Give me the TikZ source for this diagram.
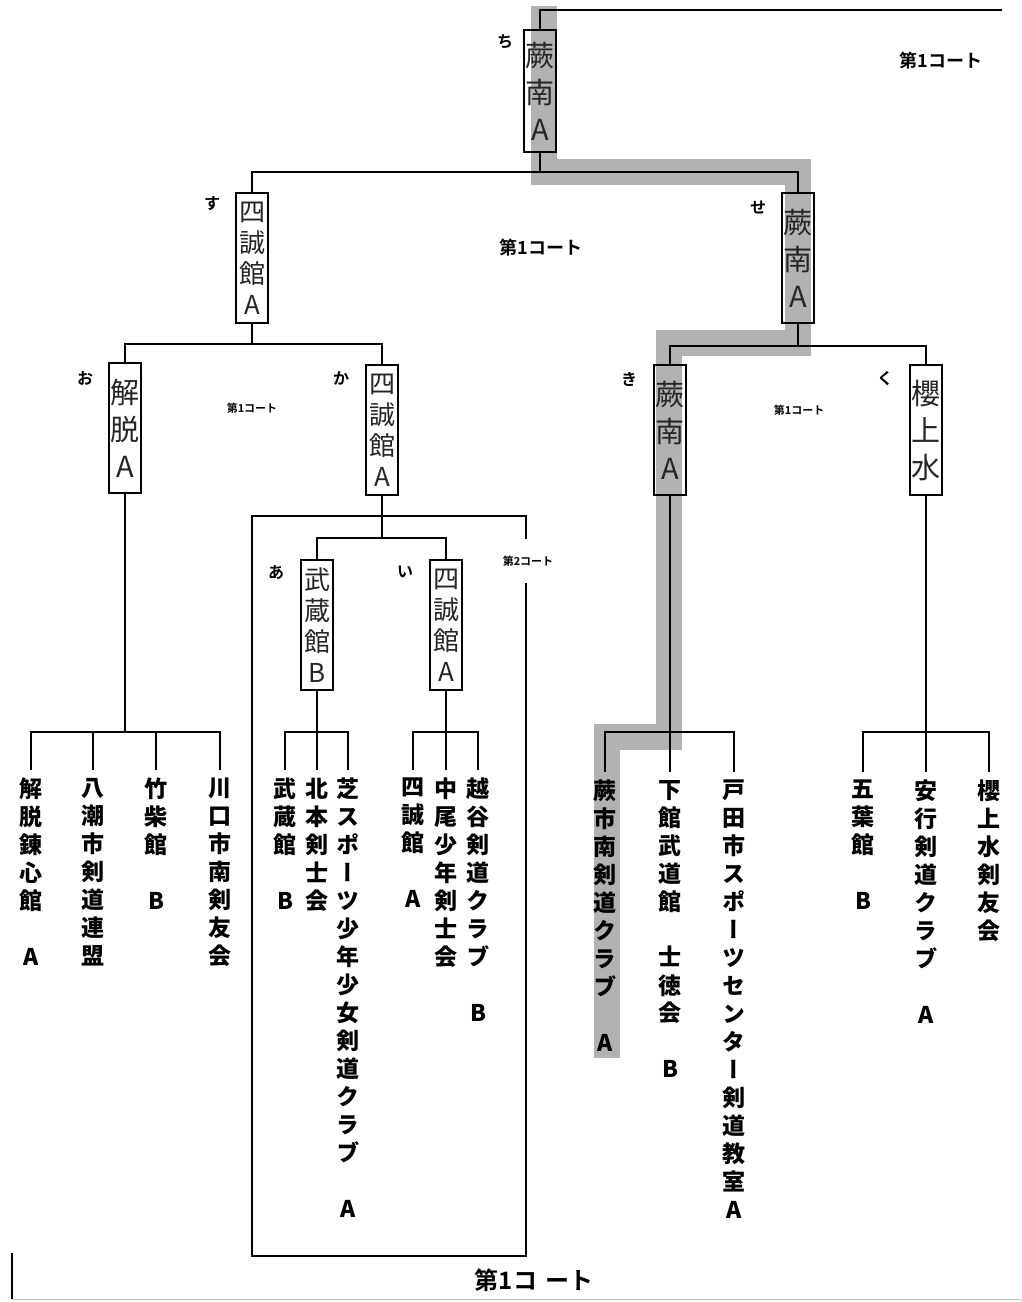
\documentclass[tikz,border=0pt]{standalone}
\usepackage{fontspec}
\newfontfamily\jpb{Noto Sans CJK JP Black}[RawFeature=+vert]
\newfontfamily\jpbh{Noto Sans CJK JP Bold}
\newfontfamily\jpl{Noto Sans CJK JP}
\begin{document}
\begin{tikzpicture}[x=1pt,y=-1pt,
  conn/.style={line width=1.3pt, black},
  win/.style={draw, line width=1.1pt, minimum width=32pt, minimum height=130pt, inner sep=0pt, align=center, text=black!85, font=\jpl\fontsize{26}{31}\selectfont},
  winthree/.style={win, font=\jpl\fontsize{29}{37}\selectfont},
  leaf/.style={anchor=north, inner sep=0pt, outer ysep=8pt, align=center, font=\jpb\fontsize{23}{28}\selectfont},
  kana/.style={font=\jpbh\fontsize{16}{16}\selectfont, inner sep=0pt},
  court/.style={font=\jpbh\fontsize{18}{18}\selectfont, inner sep=2pt},
  courtsmall/.style={font=\jpbh\fontsize{11}{11}\selectfont, inner sep=2pt},
  hl/.style={line width=26pt, black!30, line join=miter}
]
\useasboundingbox (0,0) rectangle (1021,1302);
\fill[white] (0,0) rectangle (1021,1302);

% highlight of the winning path
\draw[hl] (544,6) -- (544,172) -- (798,172) -- (798,343) -- (669,343) -- (669,737) -- (607,737) -- (607,1058);

% second court frame
\draw[conn] (252,516) rectangle (526,1256);
% outer first court frame parts
\draw[conn] (12,1253) -- (12,1299);
\draw[line width=1pt, black!25] (12,1299) -- (1021,1299);

% winner boxes
\node[winthree, minimum height=122pt] (chi) at (540,91) {蕨\\南\\A};
\node[win] (su) at (252,258) {四\\誠\\館\\A};
\node[winthree] (se) at (798,258) {蕨\\南\\A};
\node[winthree] (o) at (125,428) {解\\脱\\A};
\node[win] (ka) at (382,430) {四\\誠\\館\\A};
\node[winthree] (ki) at (670,430) {蕨\\南\\A};
\node[winthree] (ku) at (926,430) {櫻\\上\\水};
\node[win] (a) at (317,625) {武\\蔵\\館\\B};
\node[win] (i) at (446,625) {四\\誠\\館\\A};

% round labels
\node[kana] (lchi) at (505,42) {ち};
\node[kana] (lsu) at (212,204) {す};
\node[kana] (lse) at (758,207) {せ};
\node[kana] (lo) at (85,378) {お};
\node[kana] (lka) at (341,378) {か};
\node[kana] (lki) at (629,379) {き};
\node[kana] (lku) at (885,379) {く};
\node[kana] (la) at (276,573) {あ};
\node[kana] (li) at (405,572) {い};

% leaves
\node[leaf] (Lo1) at (31,770) {解\\脱\\錬\\心\\館\\　\\A};
\node[leaf] (Lo2) at (93,770) {八\\潮\\市\\剣\\道\\連\\盟};
\node[leaf] (Lo3) at (156,770) {竹\\柴\\館\\　\\B};
\node[leaf] (Lo4) at (220,770) {川\\口\\市\\南\\剣\\友\\会};
\node[leaf] (La1) at (285,770) {武\\蔵\\館\\　\\B};
\node[leaf] (La2) at (317,770) {北\\本\\剣\\士\\会};
\node[leaf] (La3) at (348,770) {芝\\ス\\ポ\\ー\\ツ\\少\\年\\少\\女\\剣\\道\\ク\\ラ\\ブ\\　\\A};
\node[leaf] (Li1) at (413,770) {四\\誠\\館\\　\\A};
\node[leaf] (Li2) at (446,770) {中\\尾\\少\\年\\剣\\士\\会};
\node[leaf] (Li3) at (478,770) {越\\谷\\剣\\道\\ク\\ラ\\ブ\\　\\B};
\node[leaf] (Lk1) at (605,772) {蕨\\市\\南\\剣\\道\\ク\\ラ\\ブ\\　\\A};
\node[leaf] (Lk2) at (670,772) {下\\館\\武\\道\\館\\　\\士\\徳\\会\\　\\B};
\node[leaf] (Lk3) at (734,772) {戸\\田\\市\\ス\\ポ\\ー\\ツ\\セ\\ン\\タ\\ー\\剣\\道\\教\\室\\A};
\node[leaf] (Lq1) at (863,772) {五\\葉\\館\\　\\B};
\node[leaf] (Lq2) at (926,772) {安\\行\\剣\\道\\ク\\ラ\\ブ\\　\\A};
\node[leaf] (Lq3) at (989,772) {櫻\\上\\水\\剣\\友\\会};

% court labels
\node[court] (c1a) at (941,61) {第1コート};
\node[court] (c1b) at (541,248) {第1コート};
\node[courtsmall] (c1c) at (252,408) {第1コート};
\node[courtsmall] (c1d) at (799,410) {第1コート};
\node[courtsmall, fill=white, minimum width=60pt, minimum height=44pt] (c2) at (528,561) {第2コート};
\node[font=\jpbh\fontsize{24}{24}\selectfont, inner sep=0pt] (c1e) at (534,1280) {第1コ\hspace{8pt}ート};

% junctions
\coordinate (top) at (1002,10);
\coordinate (j1) at (540,172);
\coordinate (j2) at (252,344);
\coordinate (j3) at (798,346);
\coordinate (j4) at (382,538);
\coordinate (j5) at (125,732);
\coordinate (j6) at (317,732);
\coordinate (j7) at (446,732);
\coordinate (j8) at (670,732);
\coordinate (j9) at (926,732);

% connectors
\draw[conn] (chi.north) |- (top);
\draw[conn] (chi.south) -- (j1);
\draw[conn] (su.north) |- (j1) -| (se.north);
\draw[conn] (su.south) -- (j2);
\draw[conn] (o.north) |- (j2) -| (ka.north);
\draw[conn] (se.south) -- (j3);
\draw[conn] (ki.north) |- (j3) -| (ku.north);
\draw[conn] (ka.south) -- (j4);
\draw[conn] (a.north) |- (j4) -| (i.north);

\draw[conn] (o.south) -- (j5);
\draw[conn] (Lo1.north) |- (j5) -| (Lo4.north);
\draw[conn] (Lo2.north) -- (Lo2.north |- j5);
\draw[conn] (Lo3.north) -- (Lo3.north |- j5);

\draw[conn] (a.south) -- (j6);
\draw[conn] (La1.north) |- (j6) -| (La3.north);
\draw[conn] (La2.north) -- (j6);

\draw[conn] (i.south) -- (j7);
\draw[conn] (Li1.north) |- (j7) -| (Li3.north);
\draw[conn] (Li2.north) -- (j7);

\draw[conn] (ki.south) -- (j8);
\draw[conn] (Lk1.north) |- (j8) -| (Lk3.north);
\draw[conn] (Lk2.north) -- (j8);

\draw[conn] (ku.south) -- (j9);
\draw[conn] (Lq1.north) |- (j9) -| (Lq3.north);
\draw[conn] (Lq2.north) -- (j9);
\end{tikzpicture}
\end{document}
